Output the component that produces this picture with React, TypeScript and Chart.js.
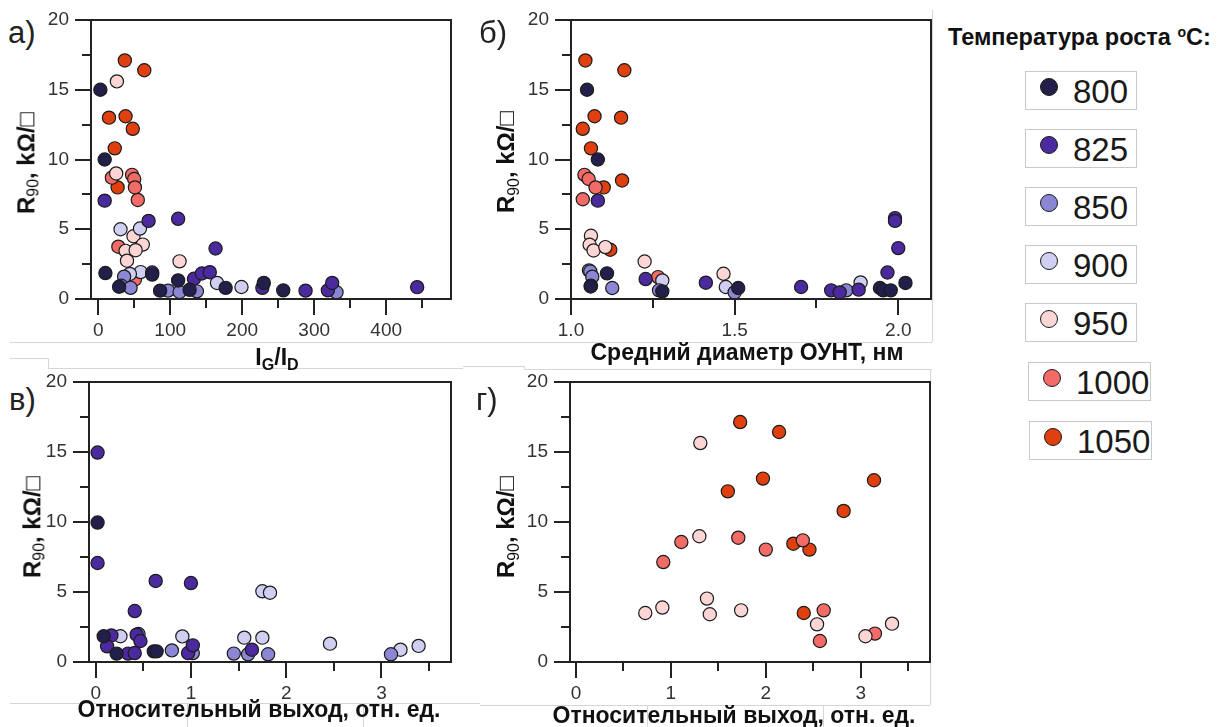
import React, { useEffect, useRef, useState } from "react";
import { Chart, registerables } from "chart.js";

Chart.register(...registerables);

const FONT = '"Liberation Sans", Arial, Helvetica, sans-serif';

// Growth temperatures (°C) and their marker colours
const TEMPS = ["800", "825", "850", "900", "950", "1000", "1050"];
const TEMP_COLORS = ["#22204a", "#4b2a9f", "#8b87d4", "#d0cff2", "#fcd5d5", "#f36b66", "#e0400f"];

// Sheet resistance axis, kΩ/□
const R_TICKS = [0, 5, 10, 15, 20];
const R_MINOR = [2.5, 7.5, 12.5, 17.5];

type Pt = [number, number];

// а) R90 vs IG/ID
const IGID_TICKS = [0, 100, 200, 300, 400];
const IGID_MINOR = [50, 150, 250, 350, 450];
const igid800: Pt[] = [[3, 15.0], [9, 10.0], [10, 1.86], [29, 0.88], [75, 1.75], [86, 0.6], [111, 1.33], [127, 0.66], [177, 0.8], [230, 1.15], [257, 0.62]];
const igid825: Pt[] = [[9, 7.05], [70, 5.6], [111, 5.75], [163, 3.62], [75, 1.9], [133, 1.45], [144, 1.83], [155, 1.92], [228, 0.8], [288, 0.6], [319, 0.62], [325, 1.15], [443, 0.85]];
const igid850: Pt[] = [[36, 1.6], [32, 0.95], [45, 0.8], [97, 0.6], [113, 0.5], [137, 0.55], [331, 0.48]];
const igid900: Pt[] = [[31, 5.0], [58, 5.05], [59, 1.93], [44, 1.8], [165, 1.15], [199, 0.86]];
const igid950: Pt[] = [[26, 15.6], [25, 9.0], [49, 4.5], [62, 3.9], [38, 3.45], [52, 3.5], [40, 2.75], [113, 2.7]];
const igid1000: Pt[] = [[19, 8.7], [47, 8.9], [50, 8.6], [51, 8.0], [55, 7.1], [28, 3.75], [51, 1.4]];
const igid1050: Pt[] = [[37, 17.1], [64, 16.4], [15, 13.0], [38, 13.1], [48, 12.2], [23, 10.8], [27, 8.0]];

// б) R90 vs mean SWCNT diameter, nm
const DIAM_TICKS = [1.0, 1.5, 2.0];
const DIAM_MINOR = [1.25, 1.75];
const diam800: Pt[] = [[1.049, 15.0], [1.082, 10.0], [1.11, 1.84], [1.06, 0.9], [1.279, 0.55], [1.511, 0.79], [1.944, 0.79], [1.954, 0.62], [1.977, 0.62], [2.022, 1.15]];
const diam825: Pt[] = [[1.082, 7.05], [1.228, 1.43], [1.412, 1.17], [1.703, 0.86], [1.795, 0.62], [1.821, 0.47], [1.879, 0.67], [1.967, 1.9], [1.99, 5.8], [1.99, 5.6], [2.0, 3.65]];
const diam850: Pt[] = [[1.059, 1.98], [1.065, 1.6], [1.061, 0.95], [1.126, 0.79], [1.269, 0.62], [1.5, 0.47], [1.841, 0.62]];
const diam900: Pt[] = [[1.055, 2.05], [1.279, 1.33], [1.473, 0.86], [1.885, 1.19]];
const diam950: Pt[] = [[1.061, 4.53], [1.057, 3.89], [1.069, 3.48], [1.105, 3.72], [1.225, 2.69], [1.466, 1.81]];
const diam1000: Pt[] = [[1.041, 8.9], [1.054, 8.6], [1.075, 8.0], [1.036, 7.15], [1.266, 1.57]];
const diam1050: Pt[] = [[1.044, 17.1], [1.163, 16.4], [1.072, 13.1], [1.153, 13.0], [1.036, 12.2], [1.061, 10.8], [1.1, 8.0], [1.156, 8.5], [1.12, 3.53]];

// в) and г) R90 vs relative yield, a.u.
const YIELD_TICKS = [0, 1, 2, 3];
const YIELD_MINOR = [0.5, 1.5, 2.5, 3.5];
const yieldLow800: Pt[] = [[0.02, 9.96], [0.084, 1.84], [0.22, 0.6], [0.61, 0.76], [0.64, 0.76]];
const yieldLow825: Pt[] = [[0.02, 14.96], [0.02, 7.07], [0.63, 5.79], [1.0, 5.64], [0.41, 3.64], [0.165, 1.9], [0.12, 1.12], [0.34, 0.6], [0.41, 0.64], [0.43, 1.95], [0.47, 1.5], [0.97, 0.64], [1.02, 1.19], [1.64, 0.88]];
const yieldLow850: Pt[] = [[0.45, 2.0], [0.8, 0.83], [1.02, 0.64], [1.45, 0.6], [1.6, 0.55], [1.81, 0.55], [3.1, 0.55]];
const yieldLow900: Pt[] = [[0.26, 1.84], [0.91, 1.83], [1.56, 1.74], [1.75, 1.74], [1.75, 5.05], [1.83, 4.95], [2.46, 1.31], [3.2, 0.88], [3.39, 1.15]];
const yieldHigh950: Pt[] = [[1.31, 15.64], [1.3, 8.98], [1.38, 4.53], [0.91, 3.89], [0.73, 3.5], [1.41, 3.41], [1.74, 3.69], [2.54, 2.69], [3.05, 1.84], [3.33, 2.74]];
const yieldHigh1000: Pt[] = [[1.71, 8.88], [1.11, 8.57], [2.39, 8.69], [2.0, 8.03], [0.92, 7.14], [2.61, 3.69], [2.57, 1.5], [3.15, 2.03]];
const yieldHigh1050: Pt[] = [[1.73, 17.14], [2.14, 16.43], [1.97, 13.1], [3.14, 12.98], [1.6, 12.19], [2.82, 10.79], [2.29, 8.45], [2.46, 8.03], [2.4, 3.5]];

type Series = { temp: string; pts: Pt[] };
type PanelCfg = {
  l: number; r: number; t: number; b: number;
  xMin: number; xMax: number;
  xTicks: number[]; xMinor: number[];
  xFmt: (v: number) => string;
  series: Series[];
};

const PANELS: PanelCfg[] = [
  {
    l: 91, r: 451, t: 20, b: 299, xMin: -10, xMax: 490,
    xTicks: IGID_TICKS, xMinor: IGID_MINOR, xFmt: (v) => String(v),
    series: [
      { temp: "800", pts: igid800 }, { temp: "825", pts: igid825 }, { temp: "850", pts: igid850 },
      { temp: "900", pts: igid900 }, { temp: "950", pts: igid950 }, { temp: "1000", pts: igid1000 },
      { temp: "1050", pts: igid1050 },
    ],
  },
  {
    l: 571, r: 931, t: 20, b: 299, xMin: 1.0, xMax: 2.1,
    xTicks: DIAM_TICKS, xMinor: DIAM_MINOR, xFmt: (v) => v.toFixed(1),
    series: [
      { temp: "800", pts: diam800 }, { temp: "825", pts: diam825 }, { temp: "850", pts: diam850 },
      { temp: "900", pts: diam900 }, { temp: "950", pts: diam950 }, { temp: "1000", pts: diam1000 },
      { temp: "1050", pts: diam1050 },
    ],
  },
  {
    l: 89, r: 451, t: 382, b: 662, xMin: -0.07, xMax: 3.73,
    xTicks: YIELD_TICKS, xMinor: YIELD_MINOR, xFmt: (v) => String(v),
    series: [
      { temp: "800", pts: yieldLow800 }, { temp: "825", pts: yieldLow825 },
      { temp: "850", pts: yieldLow850 }, { temp: "900", pts: yieldLow900 },
    ],
  },
  {
    l: 570, r: 930, t: 382, b: 662, xMin: -0.063, xMax: 3.73,
    xTicks: YIELD_TICKS, xMinor: YIELD_MINOR, xFmt: (v) => String(v),
    series: [
      { temp: "950", pts: yieldHigh950 }, { temp: "1000", pts: yieldHigh1000 }, { temp: "1050", pts: yieldHigh1050 },
    ],
  },
];

const Y_AXIS_W = 52;
const X_AXIS_H = 45;
const PAD_TOP = 20;
const PAD_RIGHT = 20;
const MAJOR_LEN = 16;
const MINOR_LEN = 9;
const LW = 2;
const AXIS_COLOR = "#222222";

type Strip = { x: number; y: number; w: number; h: number };

// Box frame and tick marks, placed from the chart's own area and scale pixels
function axisStrips(chart: any, cfg: PanelCfg): Strip[] {
  const a = chart.chartArea;
  const xs = chart.scales.x;
  const ys = chart.scales.y;
  const h = LW / 2;
  const out: Strip[] = [
    { x: a.left - h, y: a.top - h, w: a.right - a.left + LW, h: LW },
    { x: a.left - h, y: a.bottom - h, w: a.right - a.left + LW, h: LW },
    { x: a.left - h, y: a.top - h, w: LW, h: a.bottom - a.top + LW },
    { x: a.right - h, y: a.top - h, w: LW, h: a.bottom - a.top + LW },
  ];
  const xMark = (v: number, len: number) => {
    const px = xs.getPixelForValue(v);
    out.push({ x: px - h, y: a.bottom, w: LW, h: len });
  };
  const yMark = (v: number, len: number) => {
    const py = ys.getPixelForValue(v);
    out.push({ x: a.left - len, y: py - h, w: len, h: LW });
  };
  cfg.xTicks.forEach((v) => xMark(v, MAJOR_LEN));
  cfg.xMinor.forEach((v) => xMark(v, MINOR_LEN));
  R_TICKS.forEach((v) => yMark(v, MAJOR_LEN));
  R_MINOR.forEach((v) => yMark(v, MINOR_LEN));
  return out;
}

function Panel({ cfg }: { cfg: PanelCfg }) {
  const ref = useRef<HTMLCanvasElement>(null);
  const [strips, setStrips] = useState<Strip[]>([]);
  const left = cfg.l - Y_AXIS_W;
  const top = cfg.t - PAD_TOP;
  const width = cfg.r + PAD_RIGHT - left;
  const height = cfg.b + X_AXIS_H - top;

  useEffect(() => {
    if (!ref.current) return;
    const chart = new Chart(ref.current, {
      type: "scatter",
      data: {
        datasets: cfg.series.map((s) => ({
          label: s.temp,
          data: s.pts.map(([x, y]) => ({ x, y })),
          backgroundColor: TEMP_COLORS[TEMPS.indexOf(s.temp)],
          borderColor: "#1c1c1c",
          borderWidth: 1.2,
          pointRadius: 6.6,
          pointHoverRadius: 6.6,
          clip: false as any,
        })),
      },
      options: {
        animation: false,
        responsive: false,
        maintainAspectRatio: false,
        events: [],
        layout: { padding: { top: PAD_TOP, right: PAD_RIGHT, left: 0, bottom: 0 } },
        plugins: { legend: { display: false }, tooltip: { enabled: false } },
        scales: {
          x: {
            type: "linear",
            position: "bottom",
            min: cfg.xMin,
            max: cfg.xMax,
            grid: { display: false, drawTicks: false },
            border: { display: false },
            ticks: {
              padding: 20,
              autoSkip: false,
              maxRotation: 0,
              color: "#333",
              font: { family: FONT, size: 19 },
              callback: (v: any) => cfg.xFmt(Number(v)),
            },
            afterBuildTicks: (s: any) => {
              s.ticks = cfg.xTicks.map((v) => ({ value: v }));
            },
            afterFit: (s: any) => {
              s.height = X_AXIS_H;
              s.paddingLeft = 0;
              s.paddingRight = 0;
            },
          },
          y: {
            type: "linear",
            position: "left",
            min: 0,
            max: 20,
            grid: { display: false, drawTicks: false },
            border: { display: false },
            ticks: {
              padding: 22,
              color: "#333",
              font: { family: FONT, size: 19 },
              callback: (v: any) => String(v),
            },
            afterBuildTicks: (s: any) => {
              s.ticks = R_TICKS.map((v) => ({ value: v }));
            },
            afterFit: (s: any) => {
              s.width = Y_AXIS_W;
              s.paddingTop = 0;
              s.paddingBottom = 0;
            },
          },
        },
      },
    });
    setStrips(axisStrips(chart, cfg));
    return () => chart.destroy();
  }, []);

  return (
    <>
      <canvas
        ref={ref}
        width={width}
        height={height}
        style={{ position: "absolute", left, top, width, height, zIndex: 1 }}
      />
      {strips.map((s, i) => (
        <div
          key={i}
          style={{
            position: "absolute",
            zIndex: 2,
            left: left + s.x,
            top: top + s.y,
            width: s.w,
            height: s.h,
            backgroundColor: AXIS_COLOR,
          }}
        />
      ))}
    </>
  );
}

function YTitle({ cx, cy }: { cx: number; cy: number }) {
  return (
    <div
      style={{
        position: "absolute",
        zIndex: 3,
        left: cx,
        top: cy,
        transform: "translate(-50%, -50%) rotate(-90deg)",
        whiteSpace: "nowrap",
        font: `bold 24px ${FONT}`,
        lineHeight: 1,
        color: "#111",
      }}
    >
      R<span style={{ fontSize: "0.66em", fontWeight: "normal", verticalAlign: "-0.28em" }}>90</span>, kΩ/
      <span style={{ fontWeight: "normal" }}>□</span>
    </div>
  );
}

function XTitle({ cx, cy, size, children }: { cx: number; cy: number; size: number; children: React.ReactNode }) {
  return (
    <div
      style={{
        position: "absolute",
        zIndex: 3,
        left: cx,
        top: cy,
        transform: "translate(-50%, -50%)",
        whiteSpace: "nowrap",
        font: `bold ${size}px ${FONT}`,
        lineHeight: 1,
        color: "#111",
      }}
    >
      {children}
    </div>
  );
}

function PanelTag({ x, y, text }: { x: number; y: number; text: string }) {
  return (
    <div
      style={{
        position: "absolute",
        zIndex: 3,
        left: x,
        top: y,
        font: `31px ${FONT}`,
        lineHeight: 1,
        color: "#222",
        whiteSpace: "nowrap",
      }}
    >
      {text}
    </div>
  );
}

// Faint outlines of the assembled panel tiles
const TILE_LINES: [number, number, number, number][] = [
  [10, 342, 932, 342],
  [932, 10, 932, 342],
  [10, 358, 48, 358],
  [48, 358, 48, 368],
  [48, 368, 463, 368],
  [463, 366, 524, 366],
  [524, 366, 524, 369],
  [524, 369, 932, 369],
  [930, 370, 930, 705],
  [10, 703, 480, 703],
  [480, 705, 930, 705],
  [187, 703, 187, 727],
  [363, 703, 363, 727],
  [647, 705, 647, 727],
  [823, 705, 823, 727],
];

const LEGEND_TOPS = [71, 129, 187, 245, 303, 362, 421];

function Legend() {
  return (
    <>
      <div
        style={{
          position: "absolute",
          left: 948,
          top: 25,
          font: `bold 23.5px ${FONT}`,
          lineHeight: 1,
          color: "#111",
          whiteSpace: "nowrap",
        }}
      >
        Температура роста <span style={{ fontSize: "0.6em", verticalAlign: "0.55em" }}>o</span>C:
      </div>
      {TEMPS.map((t, i) => {
        const wide = t.length > 3;
        const left = wide ? 1028 + (i === 6 ? 1 : 0) : 1025;
        const w = wide ? 123 : 112;
        return (
          <div
            key={t}
            style={{
              position: "absolute",
              left,
              top: LEGEND_TOPS[i],
              width: w,
              height: 39,
              boxSizing: "border-box",
              border: "1px solid #c9c9c9",
              background: "#fff",
            }}
          >
            <div
              style={{
                position: "absolute",
                left: 23 - 9,
                top: 15 - 9,
                width: 18,
                height: 18,
                boxSizing: "border-box",
                borderRadius: "50%",
                border: "1.5px solid #1c1c1c",
                background: TEMP_COLORS[i],
              }}
            />
            <div
              style={{
                position: "absolute",
                left: 47,
                top: 3,
                font: `33px ${FONT}`,
                lineHeight: 1,
                color: "#1a1a1a",
              }}
            >
              {t}
            </div>
          </div>
        );
      })}
    </>
  );
}

export default function App() {
  return (
    <div
      style={{
        position: "absolute",
        left: 0,
        top: 0,
        width: 1217,
        height: 727,
        background: "#fff",
        overflow: "hidden",
        fontFamily: FONT,
      }}
    >
      {TILE_LINES.map(([x1, y1, x2, y2], i) => (
        <div
          key={i}
          style={{
            position: "absolute",
            left: Math.min(x1, x2),
            top: Math.min(y1, y2),
            width: Math.max(1, Math.abs(x2 - x1)),
            height: Math.max(1, Math.abs(y2 - y1)),
            background: "#d6d6d6",
          }}
        />
      ))}
      {PANELS.map((p, i) => (
        <Panel key={i} cfg={p} />
      ))}
      <PanelTag x={8} y={17} text="а)" />
      <PanelTag x={479} y={17} text="б)" />
      <PanelTag x={9} y={384} text="в)" />
      <PanelTag x={476} y={384} text="г)" />
      <YTitle cx={28} cy={163} />
      <YTitle cx={508} cy={162} />
      <YTitle cx={34} cy={527} />
      <YTitle cx={508} cy={527} />
      <XTitle cx={277} cy={359} size={23}>
        I<span style={{ fontSize: "0.7em", verticalAlign: "-0.3em" }}>G</span>/I
        <span style={{ fontSize: "0.7em", verticalAlign: "-0.3em" }}>D</span>
      </XTitle>
      <XTitle cx={747} cy={352} size={23}>Средний диаметр ОУНТ, нм</XTitle>
      <XTitle cx={259} cy={709} size={23}>Относительный выход, отн. ед.</XTitle>
      <XTitle cx={734} cy={715} size={23}>Относительный выход, отн. ед.</XTitle>
      <Legend />
    </div>
  );
}
